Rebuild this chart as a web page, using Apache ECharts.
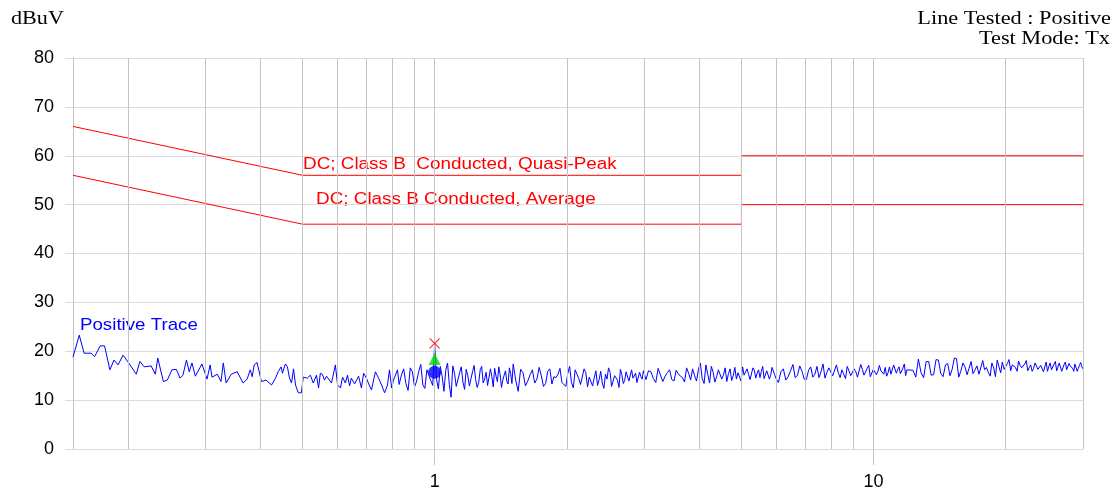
<!DOCTYPE html>
<html><head><meta charset="utf-8">
<script src="https://cdn.jsdelivr.net/npm/echarts@6/dist/echarts.min.js"></script>
<style>html,body{margin:0;padding:0;background:#fff}#c{width:1115px;height:491px}</style>
</head><body><div id="c"></div>
<script>
// ---- data ----
const xLabelTicks = [1, 10];
const xGridLines = [0.2,0.3,0.4,0.5,0.6,0.7,0.8,0.9,1,2,3,4,5,6,7,8,9,10,20,30];
const yRange = [0, 80];
const qpLimit = [[0.15,66],[0.5,56],[5,56],[5,60],[30,60]];
const avgLimit = [[0.15,56],[0.5,46],[5,46],[5,50],[30,50]];
const qpPeak = [[1.0,21.6]];
const qpMeas = [[1.0,18.4]];
const avgMeas = [[1.0,15.7]];

const traceA = [[0.15,18.8],[0.155,23.3],[0.159,19.6],[0.165,19.6],[0.168,18.9],[0.173,21.1],[0.177,21.1],[0.182,16.2],[0.186,18.2],[0.19,17.2],[0.195,19.2],[0.201,17.6],[0.209,15.3],[0.213,17.9],[0.218,16.8],[0.226,17.0],[0.231,15.3],[0.234,18.6],[0.241,13.8],[0.246,14.1],[0.252,16.2],[0.258,16.3],[0.263,14.5],[0.267,15.1],[0.272,18.2],[0.276,15.8],[0.28,17.6],[0.285,14.9],[0.295,17.4]];
const traceB = [[0.303,14.3],[0.308,17.2],[0.311,14.7],[0.32,15.3],[0.326,13.8],[0.33,17.6],[0.335,13.5],[0.344,15.3],[0.355,15.8],[0.366,13.5],[0.374,14.3],[0.38,16.2],[0.384,14.8]];
const traceB2 = [[0.388,17.2],[0.394,17.7],[0.403,13.8],[0.413,14.1],[0.425,13.1],[0.434,14.5],[0.440,15.8],[0.447,16.8],[0.450,15.5],[0.457,17.4],[0.462,16.8],[0.467,14.5],[0.472,13.5],[0.477,16.4],[0.482,13.1],[0.489,11.5],[0.497,11.5],[0.502,14.7],[0.513,14.5],[0.521,15.1],[0.529,13.5],[0.538,15.1],[0.544,12.5],[0.549,15.5],[0.555,15.3],[0.561,14.1],[0.567,14.9],[0.576,14.1],[0.582,13.5],[0.594,17.2],[0.601,13.1],[0.610,12.5],[0.617,14.7],[0.626,13.5],[0.633,15.1],[0.640,12.9],[0.646,14.5],[0.657,13.3],[0.671,14.9],[0.681,12.5],[0.689,15.5],[0.699,14.5],[0.711,12.9],[0.718,12.1],[0.733,15.8],[0.745,14.5],[0.757,13.1],[0.769,11.5],[0.781,13.1],[0.789,16.2],[0.798,12.5],[0.806,14.1],[0.823,16.2]];
const traceC = [[0.83,13.2],[0.85,16.4],[0.87,12.0],[0.89,15.8],[0.91,13.9],[0.93,17.3],[0.95,12.4],[0.97,15.1],[0.99,13.0],[1.0,21.6],[1.01,14.2],[1.03,16.9],[1.05,11.8],[1.07,17.6],[1.09,10.6],[1.11,15.5],[1.13,13.1],[1.15,16.8],[1.17,12.2],[1.19,15.0],[1.21,14.4],[1.23,17.1],[1.25,12.6],[1.27,16.2],[1.29,13.5],[1.31,15.7],[1.33,12.9],[1.35,14.8],[1.37,16.5],[1.39,13.8],[1.41,15.2],[1.43,14.1],[1.45,16.0],[1.47,13.3],[1.49,15.4]];
const traceC2 = [[0.84,15.1],[0.86,13.4],[0.88,16.6],[0.90,12.7],[0.92,15.9],[0.94,13.1],[0.96,16.2],[0.98,14.0],[1.02,12.3],[1.04,14.9],[1.06,16.1],[1.08,13.2],[1.10,17.0],[1.12,12.8],[1.14,15.6],[1.16,13.7],[1.18,16.3],[1.20,12.9],[1.22,15.8],[1.24,14.2],[1.26,13.6],[1.28,16.9],[1.30,14.3],[1.32,13.0],[1.34,16.4],[1.36,12.7],[1.38,14.9],[1.40,16.8],[1.42,12.6],[1.44,15.1],[1.46,13.9],[1.48,16.6],[1.50,13.4]];
const traceD = [[1.51,17.4],[1.55,11.8],[1.59,15.6],[1.63,13.9],[1.67,16.2],[1.71,14.3],[1.75,15.0],[1.79,13.4],[1.83,16.4],[1.87,14.8],[1.91,15.3],[1.95,13.6],[1.99,12.8],[2.03,16.9],[2.07,12.5],[2.11,15.8],[2.15,13.2],[2.19,16.4],[2.23,12.7],[2.27,15.1],[2.31,14.6],[2.35,13.0],[2.39,15.9],[2.43,12.4],[2.47,14.3],[2.51,15.7],[2.55,13.1],[2.59,14.6],[2.63,12.6],[2.67,15.2],[2.71,14.0],[2.75,16.1],[2.79,13.7],[2.83,14.5],[2.87,15.5],[2.91,13.9],[2.95,14.8],[2.99,16.0]];
const traceD2 = [[1.53,14.1],[1.57,16.3],[1.61,12.9],[1.65,15.2],[1.69,13.5],[1.73,16.7],[1.77,12.8],[1.81,15.9],[1.85,13.3],[1.89,14.6],[1.93,16.5],[1.97,14.0],[2.01,15.4],[2.05,13.6],[2.09,16.2],[2.13,14.4],[2.17,13.1],[2.21,15.6],[2.25,14.7],[2.29,12.9],[2.33,16.0],[2.37,14.2],[2.41,13.5],[2.45,15.3],[2.49,16.6],[2.53,12.8],[2.57,15.0],[2.61,14.1],[2.65,16.3],[2.69,13.4],[2.73,15.8],[2.77,13.9],[2.81,16.2],[2.85,14.9],[2.89,13.6],[2.93,15.7],[2.97,14.3]];
const traceE = [[3.03,14.2],[3.11,15.8],[3.19,13.6],[3.27,15.1],[3.35,14.9],[3.43,16.2],[3.51,13.9],[3.59,15.4],[3.67,14.6],[3.75,16.6],[3.83,14.1],[3.91,15.0],[3.99,16.3],[4.07,14.4],[4.15,17.2],[4.23,13.5],[4.31,15.7],[4.39,14.8],[4.47,16.0],[4.55,15.2],[4.63,13.8],[4.71,16.4],[4.79,15.0],[4.87,14.3],[4.95,15.9],[5.03,16.8],[5.11,14.7],[5.19,15.3],[5.27,13.9],[5.35,16.1],[5.43,15.5],[5.51,14.6],[5.59,16.9],[5.67,14.2],[5.75,15.8],[5.83,15.1],[5.91,16.3],[5.99,14.5]];
const traceE2 = [[3.07,16.0],[3.15,14.4],[3.23,16.5],[3.31,13.8],[3.39,15.6],[3.47,14.2],[3.55,16.1],[3.63,14.9],[3.71,13.7],[3.79,15.5],[3.87,16.4],[3.95,13.9],[4.03,17.6],[4.11,13.4],[4.19,15.3],[4.27,16.9],[4.35,13.7],[4.43,16.2],[4.51,14.3],[4.59,16.6],[4.67,15.4],[4.75,14.0],[4.83,16.7],[4.91,15.6],[4.99,13.9],[5.07,15.1],[5.15,16.4],[5.23,14.2],[5.31,16.6],[5.39,14.5],[5.47,16.2],[5.55,15.9],[5.63,14.4],[5.71,16.0],[5.79,14.3],[5.87,16.7],[5.95,15.2]];
const traceF = [[6.07,13.6],[6.23,16.4],[6.39,14.8],[6.55,17.3],[6.71,15.1],[6.87,15.9],[7.03,14.2],[7.19,16.8],[7.35,15.3],[7.51,14.6],[7.67,17.4],[7.83,15.7],[7.99,16.5],[8.15,14.9],[8.31,15.6],[8.47,16.2],[8.63,14.4],[8.79,16.7],[8.95,15.4],[9.11,15.8],[9.27,14.8],[9.43,16.3],[9.59,15.5],[9.75,17.1],[9.91,15.2],[10.07,16.6],[10.23,15.9],[10.39,16.0],[10.55,15.3],[10.71,14.9],[10.87,16.8],[11.03,15.6],[11.19,17.0],[11.35,16.3],[11.51,15.4],[11.67,16.6],[11.83,15.0],[11.99,15.9]];
const traceF2 = [[6.15,15.8],[6.31,14.1],[6.47,16.0],[6.63,14.6],[6.79,17.0],[6.95,14.3],[7.11,16.1],[7.27,14.7],[7.43,16.9],[7.59,15.8],[7.75,14.5],[7.91,16.6],[8.07,15.0],[8.23,17.2],[8.39,14.6],[8.55,15.3],[8.71,16.9],[8.87,15.0],[9.03,16.4],[9.19,14.7],[9.35,17.3],[9.51,15.1],[9.67,16.5],[9.83,14.8],[9.99,16.3],[10.15,15.2],[10.31,17.1],[10.47,15.7],[10.63,16.7],[10.79,15.6],[10.95,15.3],[11.11,17.2],[11.27,15.5],[11.43,16.8],[11.59,15.1],[11.75,17.4],[11.91,16.2]];
const traceG = [[12.3,16.1],[12.65,18.4],[13.0,14.6],[13.35,17.9],[13.7,15.2],[14.05,18.2],[14.4,14.8],[14.75,17.5],[15.1,16.3],[15.45,18.5],[15.8,15.9],[16.15,16.8],[16.5,16.5],[16.85,15.4],[17.2,17.0],[17.55,14.9],[17.9,16.2],[18.25,15.7],[18.6,17.6],[18.95,14.8],[19.3,16.9],[19.65,17.8],[20.0,16.4],[20.35,18.3],[20.7,17.2],[21.05,16.7],[21.4,18.0],[21.75,16.6],[22.1,17.4],[22.45,16.0],[22.8,17.2],[23.15,16.5],[23.5,17.7],[23.85,16.2],[24.2,17.5],[24.55,16.8],[24.9,15.9],[25.25,17.6],[25.6,16.4],[25.95,17.9],[26.3,16.1],[26.65,17.3],[27.0,16.6],[27.35,17.8],[27.7,16.3],[28.05,17.0],[28.4,16.5],[28.75,17.4],[29.1,15.9],[29.45,17.1],[29.8,16.9],[30.0,16.4]];
const traceG2 = [[12.48,14.7],[12.83,15.6],[13.18,17.9],[13.53,15.1],[13.88,18.3],[14.23,15.4],[14.58,17.2],[14.93,15.0],[15.28,18.6],[15.63,14.7],[15.98,17.6],[16.33,15.2],[16.68,17.9],[17.03,16.2],[17.38,15.3],[17.73,18.1],[18.08,16.7],[18.43,14.9],[18.78,16.6],[19.13,18.2],[19.48,15.6],[19.83,16.3],[20.18,17.5],[20.53,16.0],[20.88,17.4],[21.23,15.9],[21.58,17.1],[21.93,16.4],[22.28,18.1],[22.63,16.7],[22.98,15.9],[23.33,17.6],[23.68,16.3],[24.03,17.1],[24.38,15.8],[24.73,17.8],[25.08,16.9],[25.43,16.2],[25.78,17.4],[26.13,16.0],[26.48,17.6],[26.83,15.9],[27.18,17.3],[27.53,16.2],[27.88,17.5],[28.23,16.6],[28.58,15.9],[28.93,17.8],[29.28,16.5],[29.63,17.7]];

const trace = [].concat(traceA, traceB, traceB2, traceC, traceC2, traceD, traceD2, traceE, traceE2, traceF, traceF2, traceG, traceG2)
  .sort((a, b) => a[0] - b[0]);

// ---- chart ----
const SANS = 'Liberation Sans, Arial, sans-serif';
const SERIF = 'Liberation Serif, Times New Roman, serif';
const gridV = '#c4c4c4', gridH = '#dcdcdc';
const chart = echarts.init(document.getElementById('c'), null, {renderer: 'canvas'});
chart.setOption({
  animation: false,
  backgroundColor: '#fff',
  grid: {left: 73, right: 32, top: 58, bottom: 42},
  xAxis: {
    type: 'log', logBase: 10, min: 0.15, max: 30,
    axisLine: {show: false},
    splitLine: {show: false},
    minorTick: {show: false},
    axisTick: {show: true, customValues: xLabelTicks, length: 16, lineStyle: {color: gridV}},
    axisLabel: {customValues: xLabelTicks, fontSize: 18, color: '#000', fontFamily: SANS, margin: 24,
      formatter: v => String(Math.round(v))}
  },
  yAxis: {
    type: 'value', min: yRange[0], max: yRange[1], interval: 10,
    axisLine: {show: true, lineStyle: {color: gridV}},
    axisTick: {show: true, length: 8, lineStyle: {color: gridH}},
    axisLabel: {fontSize: 18, color: '#000', fontFamily: SANS, margin: 19},
    splitLine: {show: true, lineStyle: {color: gridH, width: 1}}
  },
  series: [
    {type: 'line', data: [], z: 1, silent: true,
     markLine: {silent: true, symbol: ['none','none'], label: {show: false},
       lineStyle: {color: gridV, width: 1, type: 'solid'}, emphasis: {disabled: true},
       data: xGridLines.map(v => ({xAxis: v}))}},
    {type: 'line', data: qpLimit, symbol: 'none', z: 3, lineStyle: {color: '#ff0000', width: 1}},
    {type: 'line', data: avgLimit, symbol: 'none', z: 3, lineStyle: {color: '#ff0000', width: 1}},
    {type: 'line', data: trace, symbol: 'none', z: 4, lineStyle: {color: '#0000ff', width: 1}},
    {type: 'scatter', data: avgMeas, symbol: 'circle', symbolSize: 13, z: 5, itemStyle: {color: '#0000ff'}},
    {type: 'scatter', data: qpMeas, symbol: 'triangle', symbolSize: [12, 12], z: 6, itemStyle: {color: '#00dd00'}},
    {type: 'scatter', data: qpPeak, symbol: 'path://M0,0L10,10M10,0L0,10', symbolSize: 10, z: 7,
     itemStyle: {color: 'rgba(0,0,0,0)', borderColor: '#ff0000', borderWidth: 1.2}}
  ],
  graphic: [
    {type: 'text', x: 11, y: 19, scaleX: 1.23, style: {text: 'dBuV', font: '18px ' + SERIF, fill: '#000', textVerticalAlign: 'middle'}},
    {type: 'text', x: 1111, y: 19, scaleX: 1.24, style: {text: 'Line Tested : Positive', font: '18px ' + SERIF, fill: '#000', textAlign: 'right', textVerticalAlign: 'middle'}},
    {type: 'text', x: 1110, y: 39, scaleX: 1.24, style: {text: 'Test Mode: Tx', font: '18px ' + SERIF, fill: '#000', textAlign: 'right', textVerticalAlign: 'middle'}},
    {type: 'text', x: 303, y: 165, scaleX: 1.18, style: {text: 'DC; Class B  Conducted, Quasi-Peak', font: '16px ' + SANS, fill: '#ff0000', textVerticalAlign: 'middle'}},
    {type: 'text', x: 316, y: 200, scaleX: 1.18, style: {text: 'DC; Class B Conducted, Average', font: '16px ' + SANS, fill: '#ff0000', textVerticalAlign: 'middle'}},
    {type: 'text', x: 80, y: 325, scaleX: 1.1, style: {text: 'Positive Trace', font: '17px ' + SANS, fill: '#0000ff', textVerticalAlign: 'middle'}}
  ]
});
</script></body></html>
